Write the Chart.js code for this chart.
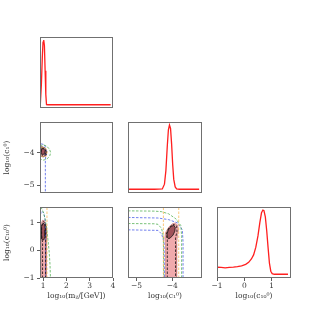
<!DOCTYPE html>
<html><head><meta charset="utf-8">
<script src="https://cdn.jsdelivr.net/npm/chart.js@4/dist/chart.umd.min.js"></script>
<style>
html,body{margin:0;padding:0;background:#fff;width:323px;height:312px;overflow:hidden;position:relative}
canvas{position:absolute}
</style></head><body>
<script>
// ---------- 1D marginals ----------
const mass_x = [0.87, 0.92, 0.96, 0.99, 1.02, 1.05, 1.08, 1.11, 1.14, 1.2, 1.5, 2.0, 2.5, 3.0, 3.5, 3.9];
const mass_y = [0.03, 0.35, 0.75, 0.97, 1.0, 0.92, 0.55, 0.2, 0.05, 0.048, 0.048, 0.048, 0.048, 0.048, 0.048, 0.048];

const c1_x = [-5.24, -4.5, -4.28, -4.22, -4.18, -4.14, -4.11, -4.08, -4.05, -4.02, -3.99, -3.96, -3.92, -3.88, -3.8, -3.5, -3.25];
const c1_y = [0.055, 0.055, 0.06, 0.13, 0.33, 0.7, 0.93, 1.0, 0.95, 0.72, 0.42, 0.2, 0.09, 0.06, 0.055, 0.055, 0.055];

const c10_x = [-1.0, -0.85, -0.7, -0.55, -0.4, -0.25, -0.1, 0.05, 0.16, 0.26, 0.34, 0.42, 0.5, 0.57, 0.63, 0.68, 0.72, 0.77, 0.82, 0.87, 0.92, 0.97, 1.02, 1.1, 1.3, 1.6];
const c10_y = [0.158, 0.155, 0.15, 0.157, 0.16, 0.166, 0.18, 0.2, 0.23, 0.28, 0.34, 0.45, 0.62, 0.82, 0.96, 1.0, 0.99, 0.9, 0.7, 0.45, 0.22, 0.1, 0.065, 0.055, 0.055, 0.055];

// ---------- 2D: log m (x) vs log c1 (y) ----------
const ml_sig2 = [[0.86,-3.83],[0.95,-3.82],[1.08,-3.86],[1.15,-3.97],[1.12,-4.08],[1.0,-4.13],[0.88,-4.1],[0.86,-4.05],[0.86,-3.83]];
const ml_sig1 = [[0.91,-3.89],[1.01,-3.88],[1.08,-3.94],[1.06,-4.03],[0.98,-4.06],[0.91,-4.01],[0.91,-3.89]];
const ml_green = [[0.86,-3.79],[1.0,-3.76],[1.15,-3.8],[1.27,-3.9],[1.32,-4.0],[1.28,-4.1],[1.17,-4.19],[1.02,-4.23],[0.86,-4.2]];
const ml_blue = [[0.9,-3.73],[1.03,-3.75],[1.1,-3.83],[1.12,-3.95],[1.11,-4.1],[1.09,-4.2],[1.09,-5.24]];
const ml_orange = [[0.92,-3.84],[1.1,-3.86],[1.17,-3.97],[1.12,-4.12],[0.95,-4.13],[0.9,-4.05]];
const ml_black = [[0.93,-3.86],[1.07,-3.88],[1.12,-3.98],[1.06,-4.08],[0.95,-4.08],[0.91,-3.97],[0.93,-3.86]];

// ---------- 2D: log m (x) vs log c10 (y) ----------
const bl_sig2 = [[0.92,-1],[0.92,0.3],[0.89,0.6],[0.9,0.95],[0.97,1.1],[1.06,1.08],[1.13,0.9],[1.14,0.5],[1.12,0.2],[1.12,-1],[0.92,-1]];
const bl_sig1 = [[0.94,0.42],[0.92,0.6],[0.93,0.88],[0.99,0.99],[1.06,0.95],[1.09,0.75],[1.08,0.52],[1.02,0.38],[0.94,0.42]];
const bl_black = [[0.97,-1],[0.97,0.3],[0.93,0.55],[0.93,0.9],[1.0,1.05],[1.08,1.0],[1.12,0.7],[1.1,0.35],[1.1,-1]];
const bl_orange = [[1.16,-1],[1.16,1.58]];
const bl_green = [[0.9,1.58],[1.0,1.4],[1.08,1.15],[1.15,0.8],[1.2,0.4],[1.25,0],[1.29,-0.5],[1.31,-1]];
const bl_blue = [[0.86,1.3],[0.95,1.42],[1.03,1.35],[1.08,1.1],[1.1,0.7],[1.1,0],[1.1,-1]];

// ---------- 2D: log c1 (x) vs log c10 (y) ----------
const bm_sig2 = [[-4.19,-1],[-4.19,0.2],[-4.21,0.45],[-4.19,0.65],[-4.1,0.85],[-4.0,0.97],[-3.92,1.0],[-3.85,0.92],[-3.83,0.75],[-3.86,0.5],[-3.88,0.25],[-3.88,-1],[-4.19,-1]];
const bm_sig1 = [[-4.14,0.47],[-4.15,0.6],[-4.11,0.76],[-4.03,0.88],[-3.96,0.91],[-3.92,0.84],[-3.93,0.7],[-3.98,0.56],[-4.06,0.45],[-4.11,0.43],[-4.14,0.47]];
const bm_black = [[-4.14,-1],[-4.14,0.4],[-4.17,0.6],[-4.1,0.82],[-3.98,0.95],[-3.88,0.9],[-3.87,0.7],[-3.91,0.45],[-3.91,-1]];
const bm_orangeL = [[-4.25,-1],[-4.25,1.58]];
const bm_orangeR = [[-3.82,-1],[-3.82,1.58]];
const bm_greenOut = [[-5.24,1.44],[-4.5,1.43],[-4.3,1.41],[-4.1,1.33],[-3.9,1.15],[-3.76,0.9],[-3.74,0.5],[-3.74,-1]];
const bm_greenIn = [[-5.24,0.98],[-4.5,0.97],[-4.4,0.95],[-4.3,0.8],[-4.25,0.5],[-4.24,-1]];
const bm_blueOut = [[-5.24,1.2],[-4.4,1.18],[-4.1,1.12],[-3.85,1.0],[-3.72,0.75],[-3.7,0.3],[-3.7,-1]];
const bm_blueIn = [[-5.24,0.75],[-4.4,0.73],[-4.3,0.6],[-4.23,0.3],[-4.22,-1]];

// ---------- ticks / labels ----------
const mass_ticks = [1, 2, 3, 4];
const mass_labels = ['1', '2', '3', '4'];
const c1_ticks = [-5, -4];
const c1_labels = ['\u22125', '\u22124'];
const c10_ticks = [-1, 0, 1];
const c10_labels = ['\u22121', '0', '1'];
const mass_title = 'log\u2081\u2080(m\u1D6A/[GeV])';
const c1_title = 'log\u2081\u2080(c\u2081\u2070)';
const c10_title = 'log\u2081\u2080(c\u2081\u2080\u2070)';

// ---------- styling ----------
const TFONT = {family: '"DejaVu Serif", serif', size: 7.5};
const LFONT = {family: '"DejaVu Serif", serif', size: 7.5};
const TXT = '#333';
const RED = '#ff1f1f';
const ORANGE = 'rgba(250,180,80,0.95)';
const GREEN = 'rgba(70,170,70,0.9)';
const BLUE = 'rgba(60,80,230,0.9)';
const PINK = 'rgba(240,170,172,1)';
const DARK = 'rgba(160,82,90,1)';

const pts = a => a.map(p => ({x: p[0], y: p[1]}));
const xy = (xs, ys) => xs.map((v, i) => ({x: v, y: ys[i]}));

function line1D(xs, ys) {
  return [{data: xy(xs, ys), borderColor: RED, borderWidth: 1.3, showLine: true, pointRadius: 0, fill: false, tension: 0}];
}
function dashed(a, color, order) {
  return {data: pts(a), borderColor: color, borderWidth: 0.8, borderDash: [2.5, 1.5], showLine: true, pointRadius: 0, fill: false, order: order};
}
function filled(a, color, edge, order) {
  return {data: pts(a), borderColor: edge, borderWidth: 0.8, backgroundColor: color, showLine: true, pointRadius: 0, fill: 'shape', order: order};
}

const frame = {
  id: 'frame',
  afterDraw(c) {
    const a = c.chartArea, ctx = c.ctx;
    ctx.save();
    ctx.strokeStyle = '#707070';
    ctx.lineWidth = 1;
    ctx.strokeRect(Math.round(a.left) + 0.5, Math.round(a.top) + 0.5, Math.round(a.right - a.left) - 1, Math.round(a.bottom - a.top) - 1);
    ctx.restore();
  }
};

function axis(range, ticks, labels, title, isX) {
  const has = ticks.length > 0;
  return {
    type: 'linear', min: range[0], max: range[1],
    afterFit: s => { if (isX) s.height = 35; else s.width = 40; },
    afterBuildTicks: s => { s.ticks = ticks.map(v => ({value: v})); },
    ticks: {display: has, font: TFONT, color: TXT, padding: isX ? 1 : 2.5, maxRotation: 0, autoSkip: false,
      callback: (v, i) => labels[i]},
    grid: {display: has, drawOnChartArea: false, drawTicks: has, tickLength: 3, color: '#333', lineWidth: 0.8},
    border: {display: false},
    title: {display: !!title, text: title || '', font: LFONT, color: TXT,
      padding: isX ? {top: 0, bottom: 12} : {top: 2.5, bottom: 0}}
  };
}

function panel(L, T, W, H, xr, yr, datasets, xt, xl, xtitle, yt, yl, ytitle) {
  const cv = document.createElement('canvas');
  const cw = W + 48, ch = H + 43;
  cv.width = cw; cv.height = ch;
  cv.style.left = (L - 40) + 'px'; cv.style.top = (T - 8) + 'px';
  cv.style.width = cw + 'px'; cv.style.height = ch + 'px';
  document.body.appendChild(cv);
  new Chart(cv, {
    type: 'scatter',
    data: {datasets},
    options: {
      responsive: false, animation: false, devicePixelRatio: 1,
      layout: {padding: {left: 0, top: 8, right: 8, bottom: 0}},
      plugins: {legend: {display: false}, tooltip: {enabled: false}},
      elements: {line: {tension: 0}},
      scales: {
        x: axis(xr, xt, xl, xtitle, true),
        y: axis(yr, yt, yl, ytitle, false)
      }
    },
    plugins: [frame]
  });
}

const mR = [0.86, 4.0], c1R_y = [-5.24, -3.06], c1R_x = [-5.24, -3.17], c10R_y = [-1, 1.58], c10R_x = [-1, 1.71], pR = [0, 1.045];

// Row 1
panel(40, 37, 73, 71, mR, pR, line1D(mass_x, mass_y), [], [], '', [], [], '');
// Row 2
panel(40, 122, 73, 71, mR, c1R_y, [
  filled(ml_sig2, PINK, 'rgba(60,30,30,0.9)', 20), filled(ml_sig1, DARK, '#111', 19),
  dashed(ml_black, '#111', 1), dashed(ml_orange, ORANGE, 3), dashed(ml_green, GREEN, 4), dashed(ml_blue, BLUE, 5)
], [], [], '', c1_ticks, c1_labels, c1_title);
panel(128, 122, 74, 71, c1R_x, pR, line1D(c1_x, c1_y), [], [], '', [], [], '');
// Row 3
panel(40, 207, 73, 71, mR, c10R_y, [
  filled(bl_sig2, PINK, 'rgba(200,120,120,0.8)', 20), filled(bl_sig1, DARK, '#111', 19),
  dashed(bl_black, '#111', 1), dashed(bl_orange, ORANGE, 3), dashed(bl_green, GREEN, 4), dashed(bl_blue, BLUE, 5)
], mass_ticks, mass_labels, mass_title, c10_ticks, c10_labels, c10_title);
panel(128, 207, 74, 71, c1R_x, c10R_y, [
  filled(bm_sig2, PINK, 'rgba(200,120,120,0.8)', 20), filled(bm_sig1, DARK, '#111', 19),
  dashed(bm_black, '#111', 1), dashed(bm_orangeL, ORANGE, 3), dashed(bm_orangeR, ORANGE, 3),
  dashed(bm_greenOut, GREEN, 4), dashed(bm_greenIn, GREEN, 4), dashed(bm_blueOut, BLUE, 5), dashed(bm_blueIn, BLUE, 5)
], c1_ticks, c1_labels, c1_title, [], [], '');
panel(217, 207, 74, 71, c10R_x, pR, line1D(c10_x, c10_y), c10_ticks, c10_labels, c10_title, [], [], '');
</script>
</body></html>
